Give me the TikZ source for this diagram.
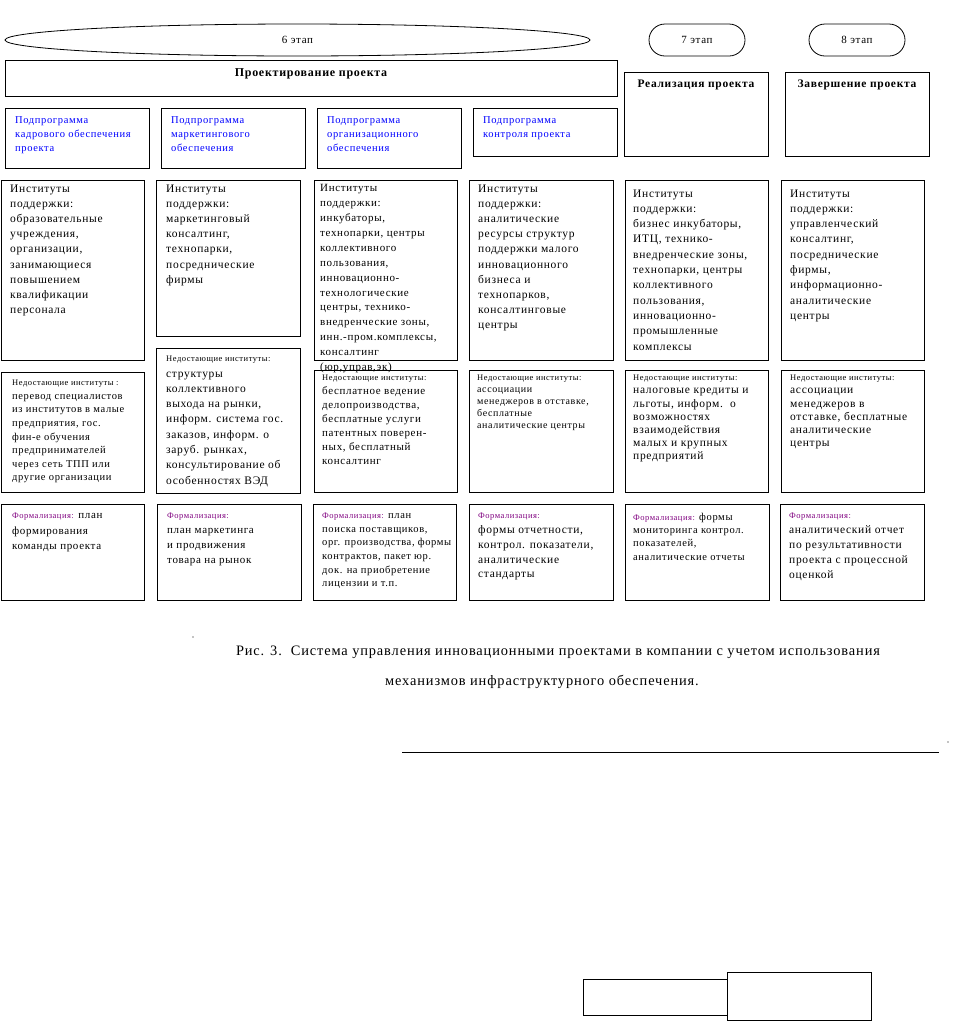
\documentclass[tikz,border=0pt]{standalone}
\usepackage{fontspec}
\setmainfont{Liberation Serif}[LetterSpace=6]
\usetikzlibrary{shapes.geometric}
\definecolor{fpurple}{RGB}{128,0,128}
\definecolor{sblue}{RGB}{0,0,255}
\newcommand\fz[2]{\fontsize{#1}{#2}\selectfont}
\newcommand\hdr{\fontsize{8.5}{10}\selectfont}
\newcommand\FM{{\hdr\color{fpurple}Формализация:}}
\newcommand\NI{{\hdr Недостающие институты:}}
\newcommand\bx[5]{\node[box,minimum width={(#4-#2)*1pt},minimum height={(#5-#3)*1pt}] (#1) at ({(#2+#4)/2},{(#3+#5)/2}) {};}
\newcommand\tx[8][]{\node[txt,font=\fz{#6}{#7},#1] (#2) at ([xshift=#4pt,yshift=-#5pt]#3.north west) {#8};}
\begin{document}
\begin{tikzpicture}[x=1pt,y=-1pt,
 box/.style={draw,line width=0.9pt,inner sep=0pt,outer sep=0pt},
 txt/.style={anchor=north west,align=left,inner sep=0pt},
 stage/.style={draw,line width=0.8pt,rounded corners=16pt,minimum width=96pt,minimum height=32pt,inner sep=0pt,font=\fz{11}{13}},
 ttl/.style={font=\bfseries\fz{11.5}{14},inner sep=0pt}
]
\useasboundingbox (0,0) rectangle (962,1021);
\fill[white] (0,0) rectangle (962,1021);
% stages
\node[draw,ellipse,line width=0.8pt,minimum width=585pt,minimum height=32pt,inner sep=0pt,font=\fz{11}{13}] (e6) at (297.5,40) {6 этап};
\node[stage] (e7) at (697,40) {7 этап};
\node[stage] (e8) at (857,40) {8 этап};
% headers
\bx{P}{5}{60}{617}{96}
\node[ttl,font=\bfseries\fz{12}{14}] (Pt) at (311,74) {Проектирование проекта};
\bx{R}{624}{72}{768}{156}
\bx{Z}{785}{72}{929}{156}
\node[ttl] (Rt) at (696,85) {Реализация проекта};
\node[ttl] (Zt) at (857,85) {Завершение проекта};
% subprograms
\bx{s1}{5}{108}{149}{168}
\bx{s2}{161}{108}{305}{168}
\bx{s3}{317}{108}{461}{168}
\bx{s4}{473}{108}{617}{156}
\tx[text=sblue]{s1t}{s1}{10}{8}{10.5}{14}{Подпрограмма\\кадрового обеспечения\\проекта}
\tx[text=sblue]{s2t}{s2}{10}{8}{10.5}{14}{Подпрограмма\\маркетингового\\обеспечения}
\tx[text=sblue]{s3t}{s3}{10}{8}{10.5}{14}{Подпрограмма\\организационного\\обеспечения}
\tx[text=sblue]{s4t}{s4}{10}{8}{10.5}{14}{Подпрограмма\\контроля проекта}
% support institutes
\bx{a1}{1}{180}{144}{360}
\bx{a2}{156}{180}{300}{336}
\bx{a3}{314}{180}{457}{360}
\bx{a4}{469}{180}{613}{360}
\bx{a5}{625}{180}{768}{360}
\bx{a6}{781}{180}{924}{360}
\tx{a1t}{a1}{9}{4.3}{11.5}{15.2}{Институты\\поддержки:\\образовательные\\учреждения,\\организации,\\занимающиеся\\повышением\\квалификации\\персонала}
\tx{a2t}{a2}{10}{4.3}{11.5}{15.2}{Институты\\поддержки:\\маркетинговый\\консалтинг,\\технопарки,\\посреднические\\фирмы}
\tx{a3t}{a3}{6}{4.3}{11}{14.9}{Институты\\поддержки:\\инкубаторы,\\технопарки, центры\\коллективного\\пользования,\\инновационно-\\технологические\\центры, технико-\\внедренческие зоны,\\инн.-пром.комплексы,\\консалтинг\\(юр,управ,эк)}
\tx{a4t}{a4}{9}{4.3}{11.5}{15.2}{Институты\\поддержки:\\аналитические\\ресурсы структур\\поддержки малого\\инновационного\\бизнеса и\\технопарков,\\консалтинговые\\центры}
\tx{a5t}{a5}{8}{9.3}{11.5}{15.3}{Институты\\поддержки:\\бизнес инкубаторы,\\ИТЦ, технико-\\внедренческие зоны,\\технопарки, центры\\коллективного\\пользования,\\инновационно-\\промышленные\\комплексы}
\tx{a6t}{a6}{9}{9.3}{11.5}{15.3}{Институты\\поддержки:\\управленческий\\консалтинг,\\посреднические\\фирмы,\\информационно-\\аналитические\\центры}
% missing institutes
\bx{b1}{1}{372}{144}{492}
\bx{b2}{156}{348}{300}{493}
\bx{b3}{314}{370}{457}{492}
\bx{b4}{469}{370}{613}{492}
\bx{b5}{625}{370}{768}{492}
\bx{b6}{781}{370}{924}{492}
\tx{b1t}{b1}{11}{8}{10.5}{13.6}{{\hdr Недостающие институты :}\\перевод специалистов\\из институтов в малые\\предприятия, гос.\\фин-е обучения\\предпринимателей\\через сеть ТПП или\\другие организации}
\tx{b2t}{b2}{10}{8}{11.5}{15.3}{\NI\\структуры\\коллективного\\выхода на рынки,\\информ. система гос.\\заказов, информ. о\\заруб. рынках,\\консультирование об\\особенностях ВЭД}
\tx{b3t}{b3}{8}{5}{11}{14}{\NI\\бесплатное ведение\\делопроизводства,\\бесплатные услуги\\патентных поверен-\\ных, бесплатный\\консалтинг}
\tx{b4t}{b4}{8}{5}{10}{12}{\NI\\ассоциации\\менеджеров в отставке,\\бесплатные\\аналитические центры}
\tx{b5t}{b5}{8}{5}{11.5}{13.2}{\NI\\налоговые кредиты и\\льготы, информ.\ \ о\\возможностях\\взаимодействия\\малых и крупных\\предприятий}
\tx{b6t}{b6}{9}{5}{11.5}{13.2}{\NI\\ассоциации\\менеджеров в\\отставке, бесплатные\\аналитические\\центры}
% formalisation
\bx{c1}{1}{504}{144}{600}
\bx{c2}{157}{504}{301}{600}
\bx{c3}{313}{504}{456}{600}
\bx{c4}{469}{504}{613}{600}
\bx{c5}{625}{504}{769}{600}
\bx{c6}{780}{504}{924}{600}
\tx{c1t}{c1}{11}{9}{11}{15.5}{\FM{} план\\формирования\\команды проекта}
\tx{c2t}{c2}{10}{9}{11}{15}{\FM\\план маркетинга\\и продвижения\\товара на рынок}
\tx{c3t}{c3}{9}{9}{10.5}{13.6}{\FM{} план\\поиска поставщиков,\\орг. производства, формы\\контрактов, пакет юр.\\док. на приобретение\\лицензии и т.п.}
\tx{c4t}{c4}{9}{9}{11.5}{14.8}{\FM\\формы отчетности,\\контрол. показатели,\\аналитические\\стандарты}
\tx{c5t}{c5}{8}{9}{10.5}{13.2}{\FM{} формы\\мониторинга контрол.\\показателей,\\аналитические отчеты}
\tx{c6t}{c6}{9}{9}{11.5}{15}{\FM\\аналитический отчет\\по результативности\\проекта с процессной\\оценкой}
% caption
\node[inner sep=0pt,font=\fz{14.4}{16}] (cap1) at (558,652) {Рис. 3.\ \ Система управления инновационными проектами в компании с учетом использования};
\node[inner sep=0pt,font=\fz{14.4}{16}] (cap2) at (542,682) {механизмов инфраструктурного обеспечения.};
\node[circle,fill,inner sep=0pt,minimum size=1.2pt] (d1) at (193,637) {};
\node[circle,fill,inner sep=0pt,minimum size=1.2pt] (d2) at (948,742) {};
\coordinate (l1) at (402,752);
\coordinate (l2) at (939,752);
\draw[line width=0.9pt] (l1) -- (l2);
% bottom boxes
\bx{q1}{583}{979}{727}{1015}
\bx{q2}{727}{972}{871}{1020}
\end{tikzpicture}
\end{document}
